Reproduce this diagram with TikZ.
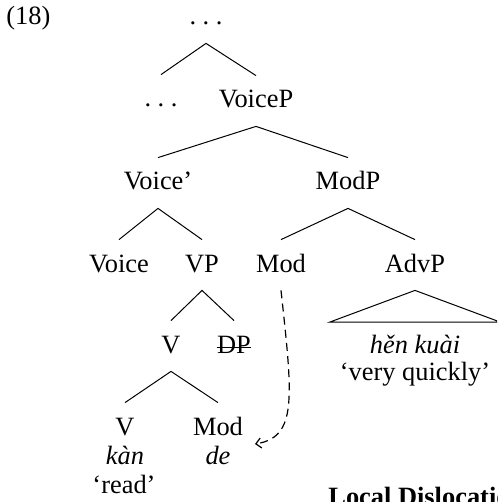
\documentclass[tikz,border=0pt]{standalone}
\usepackage{fontspec}
\setmainfont{Liberation Serif}
\usetikzlibrary{arrows.meta}
\tikzset{
  lbl/.style={anchor=base, inner sep=0pt, font=\fontsize{13.2pt}{15pt}\selectfont},
  tn/.style={lbl, text height=16pt, text depth=9pt},
  branch/.style={line width=0.5pt},
  movearrow/.style={line width=0.6pt, dash pattern=on 4pt off 2.6pt,
    -{Straight Barb[length=2.6pt,width=5pt]}},
}
\newcommand{\tdots}{.\hspace{0.25em}.\hspace{0.25em}.}
\begin{document}
\begin{tikzpicture}[x=0.5pt,y=-0.5pt]
\useasboundingbox (0,0) rectangle (497,502);
\clip (0,0) rectangle (497,502);
% example number
\node[lbl, anchor=base west] (num) at (6,25) {(18)};
% tree nodes
\node[tn] (top) at (206,25) {\tdots};
\node[tn] (ldots) at (161,107) {\tdots};
\node[tn] (voicep) at (256,108) {VoiceP};
\node[tn] (voicebar) at (158,190) {Voice’};
\node[tn] (modp) at (348,190) {ModP};
\node[tn] (voice) at (119,272) {Voice};
\node[tn] (vp) at (202,272) {VP};
\node[tn] (mod) at (281,272) {Mod};
\node[tn] (advp) at (415,272) {AdvP};
\node[tn] (vmid) at (171,353) {V};
\node[tn] (dp) at (234,353) {DP};
\node[lbl] (hen) at (415,353) {\itshape hěn kuài};
\node[lbl] (vq) at (415,380) {‘very quickly’};
\node[tn] (vlow) at (125,435) {V};
\node[tn] (modlow) at (218,435) {Mod};
\node[lbl] (kan) at (125,464) {\itshape kàn};
\node[lbl] (de) at (218,464) {\itshape de};
\node[lbl] (read) at (124,493) {‘read’};
\node[lbl, anchor=base west, font=\fontsize{13.2pt}{15pt}\selectfont\bfseries] (ld) at (328,505) {Local Dislocation};
% branches
\draw[branch] (ldots.north) -- (top.south) -- (voicep.north);
\draw[branch] (voicebar.north) -- (voicep.south) -- (modp.north);
\draw[branch] (voice.north) -- (voicebar.south) -- (vp.north);
\draw[branch] (mod.north) -- (modp.south) -- (advp.north);
\draw[branch] (vmid.north) -- (vp.south) -- (dp.north);
\draw[branch] (vlow.north) -- (vmid.south) -- (modlow.north);
% triangle over AdvP content
\coordinate (triL) at (330,322);
\coordinate (triR) at (500,322);
\draw[branch] (triL) -- (advp.south) -- (triR) -- cycle;
% strike-through of DP
\draw[line width=0.5pt] ([yshift=2.8pt]dp.base west) -- ([yshift=2.8pt]dp.base east);
% movement arrow
\coordinate (arrowend) at (255,444);
\draw[movearrow] (mod.south) .. controls (293,400) and (297,437) .. (arrowend);
\end{tikzpicture}
\end{document}
